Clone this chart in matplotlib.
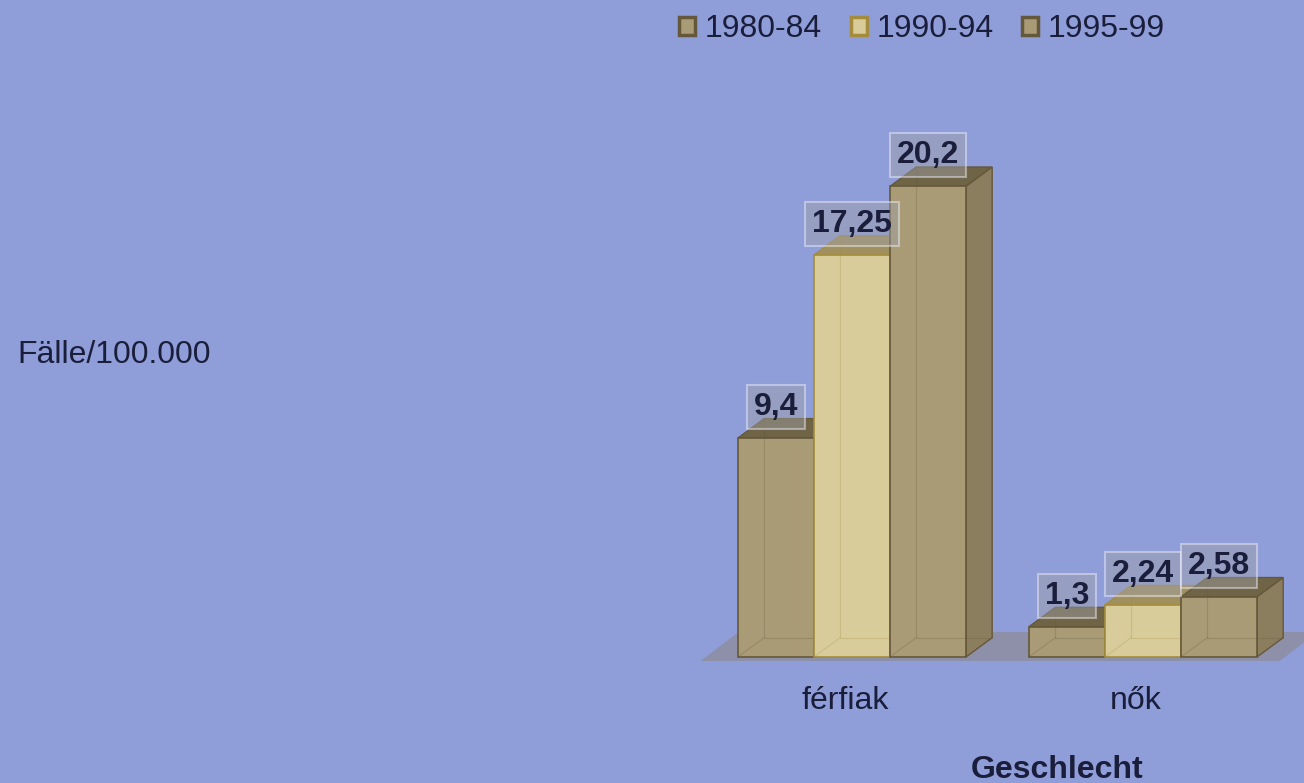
import matplotlib.pyplot as plt
import matplotlib.transforms as mtransforms
from matplotlib.patches import Polygon, Patch

plt.rcParams['font.family'] = ['Liberation Sans', 'DejaVu Sans']

# Data
categories = ['férfiak', 'nők']
periods = ['1980-84', '1990-94', '1995-99']
values = [[9.4, 1.3], [17.25, 2.24], [20.2, 2.58]]
labels = [['9,4', '1,3'], ['17,25', '2,24'], ['20,2', '2,58']]

bg = '#8f9dd9'
text_col = '#1a1e3a'
front = ['#a99b76', '#d8cc9b', '#a99b76']
side = ['#8a7e5f', '#b3a77a', '#8a7e5f']
top = ['#6f6446', '#a09060', '#6f6446']
edge = ['#65583a', '#a48c3c', '#65583a']

width = 0.2612
dx, dy = 0.09, 0.83   # depth offset of the 3D boxes (x units, value units)

fig = plt.figure(figsize=(13.04, 7.83), dpi=100, facecolor=bg)
ax = fig.add_axes([700 / 1304, 126 / 783, 604 / 1304, 557 / 783])
ax.set_facecolor(bg)
ax.set_xlim(-0.5223, 1.5533)
ax.set_ylim(0, 23.906)
for s in ax.spines.values():
    s.set_visible(False)
ax.set_yticks([])

# floor
ax.add_patch(Polygon([(-0.52, -0.17), (1.47, -0.17), (1.60, 1.07), (-0.39, 1.07)],
                     closed=True, facecolor='#8d90a8', edgecolor='none',
                     clip_on=False, zorder=1))

offsets = [-width, 0, width]
z = 2
for j in range(len(categories)):
    for i in range(len(periods)):
        h = values[i][j]
        x0 = j + offsets[i] - width / 2
        x1 = x0 + width
        ax.add_patch(Polygon([(x0, h), (x1, h), (x1 + dx, h + dy), (x0 + dx, h + dy)],
                             facecolor=top[i], edgecolor=edge[i], lw=1, zorder=z, clip_on=False))
        ax.add_patch(Polygon([(x1, 0), (x1 + dx, dy), (x1 + dx, h + dy), (x1, h)],
                             facecolor=side[i], edgecolor=edge[i], lw=1, zorder=z, clip_on=False))
        ax.bar(j + offsets[i], h, width=width, color=front[i], edgecolor=edge[i],
               lw=1.2, zorder=z + 0.5, clip_on=False)
        # faint back edges seen through the box
        ax.plot([x0 + dx, x0 + dx, x1 + dx], [h + dy, dy, dy], color=edge[i],
                lw=0.8, alpha=0.25, zorder=z + 0.6)
        ax.plot([x0, x0 + dx], [0, dy], color=edge[i], lw=0.8, alpha=0.25, zorder=z + 0.6)
        z += 1

for j in range(len(categories)):
    for i in range(len(periods)):
        h = values[i][j]
        ax.text(j + offsets[i], h + 1.33, labels[i][j], ha='center', va='center',
                fontsize=23, fontweight='bold', color=text_col, zorder=50,
                bbox=dict(boxstyle='square,pad=0.22', facecolor='#a0a0a8', alpha=0.45,
                          edgecolor='#f4f4ff', lw=1.5))

ax.set_xticks(range(len(categories)))
ax.set_xticklabels(categories, fontsize=23, color=text_col)
ax.tick_params(axis='x', length=0, pad=21)
shift = mtransforms.ScaledTranslation(-7 / 100, 0, fig.dpi_scale_trans)
for lab in ax.get_xticklabels():
    lab.set_transform(lab.get_transform() + shift)
ax.set_xlabel('Geschlecht', fontsize=23, fontweight='bold', color=text_col)
ax.xaxis.set_label_coords((1057 - 700) / 604, -(770 - 657) / 557)
ax.xaxis.label.set_va('center')

fig.text(17 / 1304, 1 - 355 / 783, 'Fälle/100.000', fontsize=23, color=text_col,
         ha='left', va='center')

handles = [Patch(facecolor=front[i], edgecolor=edge[i], lw=2.5) for i in range(3)]
fig.legend(handles, periods, loc='center', bbox_to_anchor=(922 / 1304, 1 - 29 / 783),
           ncol=3, frameon=False, fontsize=23, handlelength=0.5, handleheight=0.5,
           handletextpad=0.3, columnspacing=0.9, borderpad=0, labelcolor=text_col)

fig.savefig('out.png', dpi=100, facecolor=bg)
